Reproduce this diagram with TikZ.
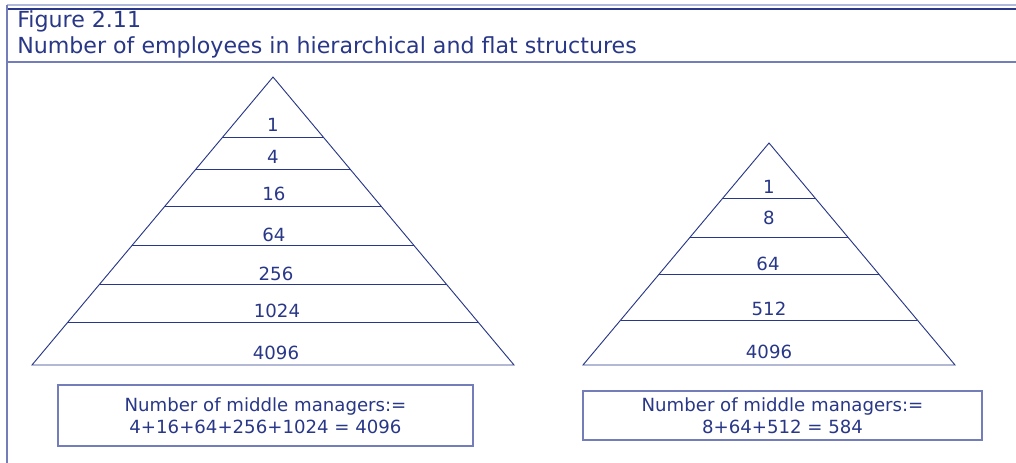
\documentclass[tikz,border=0pt]{standalone}
\usepackage{fontspec}
\setmainfont{DejaVu Sans}
\definecolor{navy}{RGB}{40,55,135}
\definecolor{boxline}{RGB}{115,125,185}
\definecolor{palerule}{RGB}{175,185,220}
\tikzset{
  lbl/.style={anchor=base,text=navy,font=\fontsize{13.6}{15}\selectfont},
  sumbox/.style={draw=boxline,line width=0.9pt,align=center,text=navy,
    font=\fontsize{13.6}{16.5}\selectfont,inner sep=0pt},
  pyr/.style={draw=navy,line width=0.7pt,line join=miter},
}
\begin{document}
\begin{tikzpicture}[x=0.75pt,y=-0.75pt]
\useasboundingbox (0,0) rectangle (1016,463);
% frame and heading
\draw[palerule,line width=1.5pt] (7,5) -- (1016,5);
\draw[navy,line width=1.5pt] (7,9) -- (1016,9);
\draw[boxline,line width=1.5pt] (7,62) -- (1016,62);
\draw[boxline,line width=1.2pt] (7,5) -- (7,463);
\node[anchor=base west,text=navy,font=\fontsize{16.6}{18}\selectfont,inner sep=0pt] (fignum) at (17,28) {Figure 2.11};
\node[anchor=base west,text=navy,font=\fontsize{16.6}{18}\selectfont,inner sep=0pt] (figtitle) at (17,54) {Number of employees in hierarchical and flat structures};
% hierarchical pyramid
\draw[pyr] (273,77) -- (514,365) -- (32,365) -- cycle;
\draw[pyr] (222.8,137) -- (323.2,137);
\draw[pyr] (196,169) -- (350,169);
\draw[pyr] (165.1,206) -- (380.9,206);
\draw[pyr] (132.4,245) -- (413.6,245);
\draw[pyr] (99.8,284) -- (446.2,284);
\draw[pyr] (68,322) -- (478,322);
\node[lbl] (h1) at (273,132) {1};
\node[lbl] (h4) at (273,164) {4};
\node[lbl] (h16) at (274,201) {16};
\node[lbl] (h64) at (274,241) {64};
\node[lbl] (h256) at (276,280) {256};
\node[lbl] (h1024) at (277,317) {1024};
\node[lbl] (h4096) at (276,359) {4096};
% flat pyramid
\draw[pyr] (769,143) -- (955,365) -- (583,365) -- cycle;
\draw[pyr] (722.9,198) -- (815.1,198);
\draw[pyr] (690.2,237) -- (847.8,237);
\draw[pyr] (659.2,274) -- (878.8,274);
\draw[pyr] (620.7,320) -- (917.3,320);
\node[lbl] (f1) at (769,194) {1};
\node[lbl] (f8) at (769,224) {8};
\node[lbl] (f64) at (768,270) {64};
\node[lbl] (f512) at (769,315) {512};
\node[lbl] (f4096) at (769,358) {4096};
% totals
\node[sumbox,minimum width=311.25pt,minimum height=45.75pt] (hsum) at (265.5,415.5)
  {Number of middle managers:=\\4+16+64+256+1024 = 4096};
\node[sumbox,minimum width=299.25pt,minimum height=36.75pt] (fsum) at (782.5,415.5)
  {Number of middle managers:=\\8+64+512 = 584};
\end{tikzpicture}
\end{document}
